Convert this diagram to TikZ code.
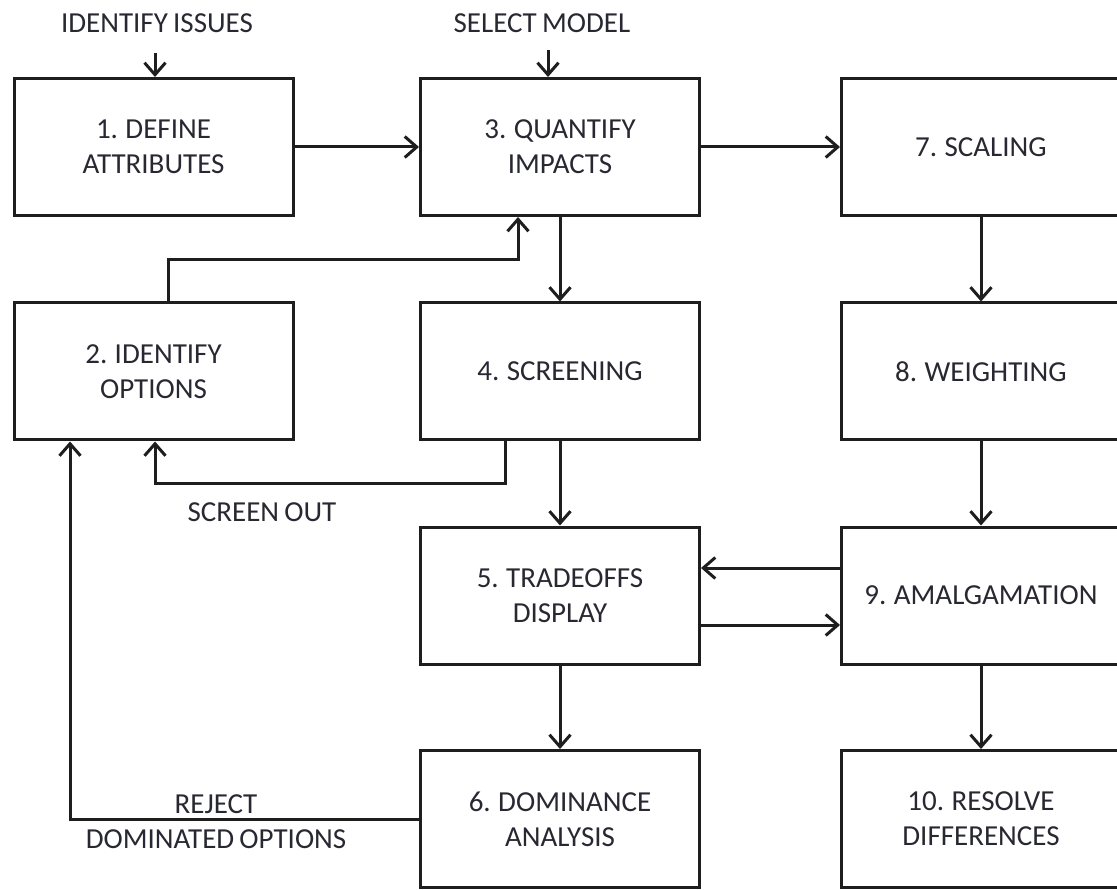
\documentclass[tikz,border=0pt]{standalone}
\usepackage{fontspec}
\setmainfont[WordSpace=0.8]{Carlito}
\usetikzlibrary{arrows.meta}
\definecolor{txt}{RGB}{40,40,50}
\definecolor{ln}{RGB}{30,30,30}
\begin{document}
\begin{tikzpicture}[x=1pt,y=-1pt,
  box/.style={draw=ln, line width=3pt, minimum width=279pt, minimum height=137pt,
    inner sep=0pt, align=center, text=txt, font=\fontsize{29}{35}\selectfont},
  lbl/.style={text=txt, align=center, inner sep=0pt, font=\fontsize{29}{35}\selectfont},
  arr/.style={draw=ln, line width=3pt, -{Straight Barb[length=12pt,width=21pt]}}]
\useasboundingbox (0,0) rectangle (1117,890);
\clip (0,0) rectangle (1117,890);
% boxes
\node[box] (b1) at (153.5,147) {1. DEFINE\\ATTRIBUTES};
\node[box] (b3) at (560,147) {3. QUANTIFY\\IMPACTS};
\node[box] (b7) at (981,147) {7. SCALING};
\node[box] (b2) at (153.5,371.5) {2. IDENTIFY\\OPTIONS};
\node[box] (b4) at (560,371.5) {4. SCREENING};
\node[box] (b8) at (981,371.5) {8. WEIGHTING};
\node[box] (b5) at (560,595.5) {5. TRADEOFFS\\DISPLAY};
\node[box] (b9) at (981,595.5) {9. AMALGAMATION};
\node[box] (b6) at (560,819) {6. DOMINANCE\\ANALYSIS};
\node[box] (b10) at (981,819) {10. RESOLVE\\DIFFERENCES};
% labels
\node[lbl] (issues) at (157,23) {IDENTIFY ISSUES};
\node[lbl] (model) at (542,23) {SELECT MODEL};
\node[lbl] (screen) at (262,512) {SCREEN OUT};
\node[lbl] (reject) at (216,822) {REJECT\\DOMINATED OPTIONS};
\coordinate (issuesA) at (155,53);
\coordinate (modelA) at (548,50);
% connectors
\draw[arr] (issuesA) -- (issuesA |- b1.north);
\draw[arr] (modelA) -- (modelA |- b3.north);
\draw[arr] (b1.east) -- (b3.west);
\draw[arr] (b3.east) -- (b7.west);
\draw[arr] (b3.south) -- (b4.north);
\draw[arr] ([xshift=14.5pt]b2.north) -- ++(0,-42) -| ([xshift=-42pt]b3.south);
\draw[arr] ([xshift=-55pt]b4.south) -- ++(0,42) -| ([xshift=1.5pt]b2.south);
\draw[arr] (b4.south) -- (b5.north);
\draw[arr] ([yshift=27.5pt]b9.west) -- ([yshift=27.5pt]b5.east);
\draw[arr] ([yshift=-29.5pt]b5.east) -- ([yshift=-29.5pt]b9.west);
\draw[arr] (b7.south) -- (b8.north);
\draw[arr] (b8.south) -- (b9.north);
\draw[arr] (b9.south) -- (b10.north);
\draw[arr] (b5.south) -- (b6.north);
\draw[arr] (b6.west) -| ([xshift=-83.5pt]b2.south);
\end{tikzpicture}
\end{document}
